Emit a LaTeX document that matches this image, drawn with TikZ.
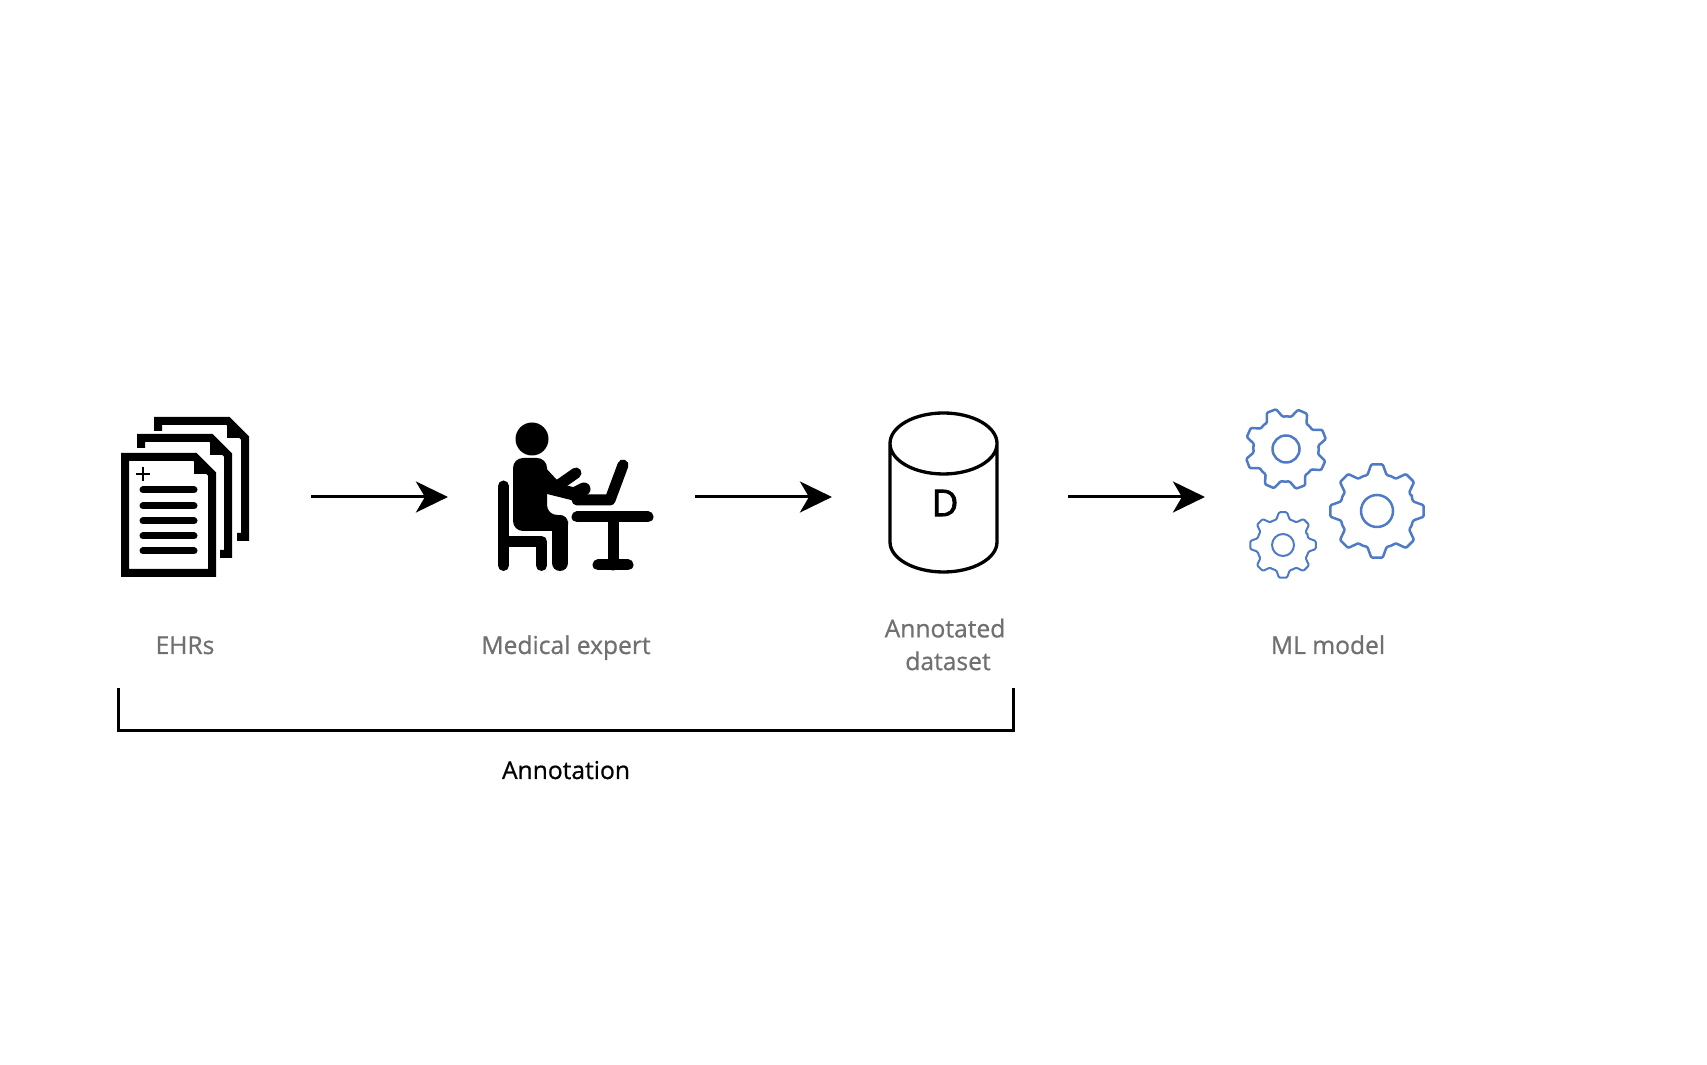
\documentclass[tikz,border=0pt]{standalone}
\usepackage{fontspec}
\setmainfont{Open Sans}[RawFeature={embolden=0.8}]
\newfontfamily\dfont{Open Sans}[RawFeature={embolden=1.8}]
\usetikzlibrary{arrows.meta}
\definecolor{labelgray}{HTML}{707070}
\definecolor{cogblue}{HTML}{4E7AC7}
\tikzset{
	pageedge/.style={line width=0.08cm,miter limit=10},
	textline/.style={line width=0.07cm,line cap=round},
	bodypart/.style={line width=0.11cm,line cap=round,line join=round},
	cogline/.style={draw=cogblue,line width=#1,line join=round},
	iconbox/.style={inner sep=0pt,outer sep=0pt},
	flow/.style={->,line width=0.03cm},
	caption/.style={text=labelgray,anchor=base,inner sep=0pt,font=\fontsize{7pt}{9.3pt}\selectfont},
}
\newcommand{\cogwheel}[6]{
	\draw[cogline=#6,shift={(#1,#2)},rounded corners=0.012cm] ({#5-22.5}:{0.8*#3})
	\foreach \k in {0,...,7}{
		-- ({#5+\k*45-15}:{0.79*#3}) -- ({#5+\k*45-7}:#3) -- ({#5+\k*45+7}:#3)
		-- ({#5+\k*45+15}:{0.79*#3}) -- ({#5+\k*45+22.5}:{0.8*#3})
	} -- cycle;
	\draw[cogline=#6] (#1,#2) circle (#4);
}
\begin{document}
\begin{tikzpicture}[x=0.01cm,y=-0.01cm,>={Stealth[length=0.32cm,width=0.31cm,inset=0.09cm]}]
	\useasboundingbox (0,0) rectangle (1707,1065);
	\node[iconbox,minimum width=1.90cm,minimum height=1.6cm] (ehrs) at (216,497) {};
	\node[iconbox,minimum width=2.47cm,minimum height=1.6cm] (expert) at (571.5,497) {};
	\node[iconbox,minimum width=2.36cm,minimum height=1.6cm] (dataset) at (950,497) {};
	\node[iconbox,minimum width=2.50cm,minimum height=1.6cm] (model) at (1330,497) {};
	\draw[flow] (ehrs.east)--(expert.west);
	\draw[flow] (expert.east)--(dataset.west);
	\draw[flow] (dataset.east)--(model.west);
	\foreach \dx/\dy in {33/-36,16/-19}{
		\begin{scope}[shift={(\dx,\dy)}]
			\draw[pageedge] (204,573)--(212,573)--(212,474)--(195,457)--(125,457)--(125,467);
			\fill (194,461)--(194,474)--(208,474)--cycle;
		\end{scope}
	}
	\draw[pageedge] (212,573)--(212,474)--(195,457)--(125,457)--(125,573)--cycle;
	\fill (194,461)--(194,474)--(208,474)--cycle;
	\draw[line width=0.02cm] (136,474)--(150,474) (143,467)--(143,481);
	\foreach \y in {490,506,521,536,551}{
		\draw[textline] (143,\y)--(194,\y);
	}
	\fill (532,439) circle (16.5);
	\draw[bodypart] (503.5,486)--(503.5,565.5);
	\draw[bodypart] (503.5,541.5)--(541.5,541.5)--(541.5,565.5);
	\fill[rounded corners=0.1cm] (513,531)--(513,458)--(547,458)--(547,515)--(568,515)--(568,531)--cycle;
	\draw[line width=0.16cm,line cap=round] (560,523)--(560,563);
	\draw[line width=0.11cm,line cap=round,line join=round] (542,472)--(556,487)--(576,473);
	\draw[line width=0.13cm,line cap=round,line join=round] (542,486)--(574,494)--(584,489);
	\draw[bodypart] (623,465)--(610,500)--(577,500);
	\draw[bodypart] (577,517)--(648,517);
	\draw[bodypart] (613,517)--(613,565);
	\draw[bodypart] (598,565)--(628,565);
	\draw[line width=0.033cm] (890,443.5) arc[start angle=180,end angle=-180,x radius=53.5,y radius=-30.5]
		(890,443.5)--(890,542) arc[start angle=180,end angle=360,x radius=53.5,y radius=-30]--(997,443.5);
	\node[inner sep=0pt,font=\fontsize{10.5pt}{12pt}\selectfont\dfont] (dlabel) at (945,503) {D};
	\cogwheel{1286}{449}{41}{13.5}{24}{0.025cm}
	\cogwheel{1377}{511}{47}{16}{0}{0.025cm}
	\cogwheel{1283}{545}{33}{11}{0}{0.02cm}
	\node[caption] (ehrslabel) at (185,654) {EHRs};
	\node[caption] (expertlabel) at (566,654) {Medical expert};
	\node[caption,anchor=center,align=center] (datasetlabel) at (945,644.5) {Annotated\\\hspace*{0.06cm}dataset};
	\node[caption] (modellabel) at (1328,654) {ML model};
	\coordinate (bracketleft) at (118,688);
	\coordinate (bracketright) at (1013,688);
	\draw[line width=0.03cm] (bracketleft)--(118,731)--(1013,731)--(bracketright);
	\node[caption,text=black] (annotationlabel) at (566,779) {Annotation};
\end{tikzpicture}
\end{document}
